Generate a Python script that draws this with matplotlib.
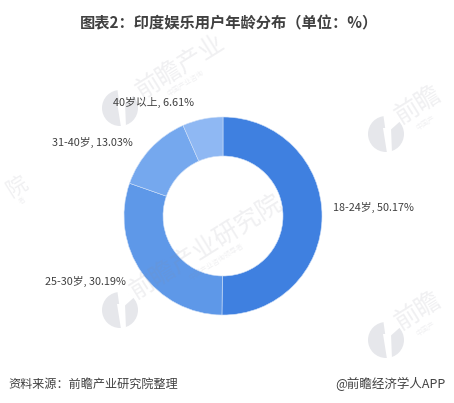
import matplotlib
matplotlib.use('Agg')
import matplotlib.pyplot as plt
from matplotlib.patches import Circle, Wedge, Polygon

plt.rcParams['font.family'] = ['Noto Sans CJK SC', 'DejaVu Sans']

labels = ['18-24岁, 50.17%', '25-30岁, 30.19%', '31-40岁, 13.03%', '40岁以上, 6.61%']
values = [50.17, 30.19, 13.03, 6.61]
colors = ['#3f80e0', '#5e98e8', '#75a8ee', '#8fb8f3']
title = '图表2：印度娱乐用户年龄分布（单位：%）'
source = '资料来源：前瞻产业研究院整理'
credit = '@前瞻经济学人APP'

W, H = 454, 403
fig = plt.figure(figsize=(W/100, H/100), dpi=100)

ax = fig.add_axes([(223-99)/W, 1-(216+99)/H, 198/W, 198/H])
ax.pie(values, colors=colors, startangle=90, counterclock=False, radius=1.0,
       wedgeprops=dict(width=0.394, edgecolor='#cfe0f8', linewidth=0.4))
ax.set_xlim(-1, 1); ax.set_ylim(-1, 1)
ax.patch.set_alpha(0)

top = fig.add_axes([0, 0, 1, 1], zorder=5)
top.set_xlim(0, W); top.set_ylim(H, 0); top.axis('off')
top.patch.set_alpha(0)

# watermarks: logo + wordmark + small line
WM = '#8a8a98'
for (x, y, s, fs) in [(206, 247, '前瞻产业研究院', 18), (180, 67, '前瞻产业', 18),
                      (418, 105, '前瞻', 18), (418, 311, '前瞻', 18), (17, 186, '院', 15)]:
    top.text(x, y, s, rotation=32, rotation_mode='anchor', fontsize=fs, color=WM, alpha=0.13,
             ha='center', va='center')
for (x, y, s) in [(216, 262, '中国产业咨询领导者'), (186, 83, '中国产业咨询'),
                  (426, 123, '中国产'), (426, 329, '中国产'), (22, 201, '者')]:
    top.text(x, y, s, rotation=32, rotation_mode='anchor', fontsize=5, color=WM, alpha=0.12,
             ha='center', va='center')
for (cx, cy) in [(120, 108), (120, 310), (386, 134), (386, 340)]:
    top.add_patch(Circle((cx, cy), 18, facecolor='#e6e7eb', edgecolor='none', zorder=1))
    # white gap at the top, running into a stem that leaves a left and a right lobe
    top.add_patch(Wedge((cx, cy), 19, 262, 318, facecolor='white', edgecolor='none', zorder=2))
    top.add_patch(Polygon([(cx - 3, cy - 6), (cx + 5, cy - 6), (cx + 6, cy + 19), (cx + 1, cy + 19)],
                          facecolor='white', edgecolor='none', zorder=2))

label_pos = [(333, 207), (45, 281), (52, 142), (113, 102)]
for lab, (x, y) in zip(labels, label_pos):
    top.text(x, y, lab, fontsize=7.8, color='#404040', ha='left', va='center', zorder=10)

top.text(229, 23, title, fontsize=11, color='#404040', ha='center', va='center', weight='bold', zorder=10)
top.text(8, 384, source, fontsize=8.7, color='#404040', ha='left', va='center', style='italic', zorder=10)
top.text(445, 384, credit, fontsize=9, color='#404040', ha='right', va='center', zorder=10)

fig.savefig('out.png', dpi=100)
